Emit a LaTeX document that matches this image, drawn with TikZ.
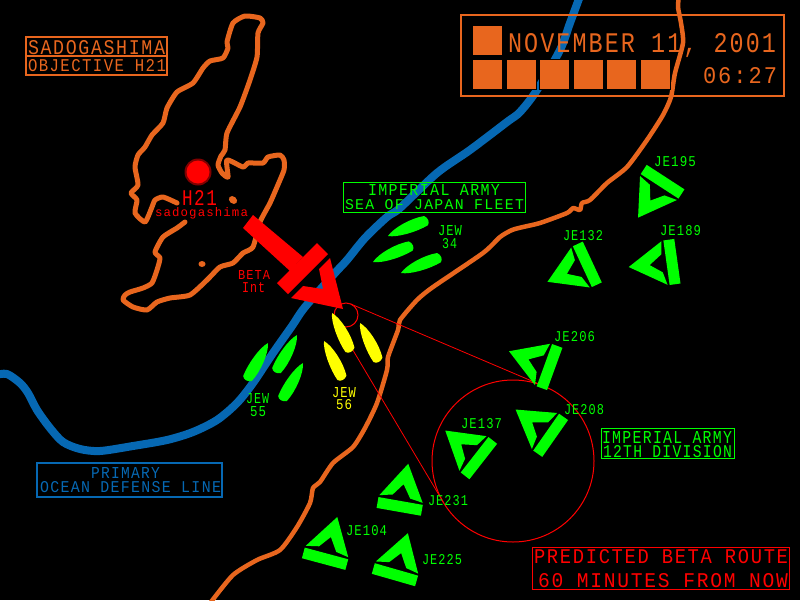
\documentclass[tikz,border=0pt]{standalone}
\usepackage{fontspec}
\setmonofont[LetterSpace=9]{Liberation Mono}
\definecolor{hudorange}{HTML}{E8661E}
\definecolor{hudblue}{HTML}{0668B3}
\definecolor{hudgreen}{HTML}{00FF00}
\definecolor{hudred}{HTML}{FF0000}
\definecolor{hudyellow}{HTML}{FFFF00}
\newcommand{\hud}[3]{\resizebox{#1pt}{#2pt}{\ttfamily #3}}
\tikzset{
  hudlabel/.style={inner sep=0pt,outer sep=0pt,anchor=base west},
  hudframe/.style={draw,line width=1.4pt,inner sep=0pt,outer sep=0pt,anchor=north west},
  hudsquare/.style={fill=hudorange,draw=black,line width=1pt,minimum size=30pt,inner sep=0pt,anchor=north west},
  ring/.style={circle,draw=hudred,line width=1pt,inner sep=0pt,outer sep=0pt},
  coastline/.style={hudorange,line width=4.5pt,line cap=round,line join=round},
  jeunit/.pic={
    \fill[hudgreen] (-22,0) -- (1,-36) -- (22,0) -- (9,-2) -- (0,-15) -- (-9,-3) -- cycle;
    \fill[hudgreen] (-22.5,2) -- (22.5,2) -- (22.5,13) -- (-22.5,13) -- cycle;
  },
  jewship/.pic={
    \path[pic actions] (0,0) .. controls (8,-5.5) and (28,-8) .. (41,-5) .. controls (44,-2) and (44,3) .. (41,5) .. controls (28,7) and (8,5) .. (0,0) -- cycle;
  }
}
\begin{document}
\begin{tikzpicture}[x=1pt,y=-1pt]
\useasboundingbox (0,0) rectangle (800,600);
\fill[black] (0,0) rectangle (800,600);

\draw[hudblue,line width=8pt,line cap=round,line join=round] plot[smooth,tension=.5] coordinates {(-4,375) (7,374) (20,383) (28,393) (37,410) (50,428) (63,442) (80,449) (100,451) (133,446) (167,440) (193,432) (217,420) (237,403) (253,383) (273,353) (292,326) (305,307) (335,273) (347,260) (365,238) (387,217) (400,208) (437,173) (470,150) (507,122) (520,112) (537,90) (560,50) (570,23) (580,-4)};

\draw[coastline] plot[smooth,tension=.4] coordinates {(679,-4) (678,7) (681,23) (683,43) (675,73) (671,97) (663,115) (647,140) (627,167) (607,183) (590,200) (582,203) (580,210) (573,208) (567,213) (540,223) (523,227) (512,230) (500,237) (483,253) (433,287) (417,300) (400,320) (398,330) (388,357) (387,370) (377,403) (365,428) (353,447) (333,463) (320,482) (313,488) (310,503) (297,527) (280,550) (257,560) (233,575) (211,602)};

\draw[coastline,line width=5pt] plot[smooth,tension=.35] coordinates {(185,222) (177,228) (163,237) (155,252) (160,258) (157,270) (152,283) (143,288) (130,292) (125,295) (123,300) (133,307) (147,310) (157,302) (170,298) (190,295) (207,280) (220,267) (233,263) (243,253) (253,247) (260,222) (270,203) (277,187) (284,170) (284,160) (280,155) (268,157) (263,163) (248,163) (243,167) (227,160) (228,177) (222,173) (218,165) (221,156) (225,150) (227,133) (240,107) (250,80) (257,57) (258,33) (263,23) (260,18) (245,16) (233,23) (227,42) (228,48) (223,58) (210,61) (203,68) (193,83) (177,92) (167,108) (163,123) (152,135) (145,147) (138,155) (135,167) (138,185) (131,193) (137,200) (135,213) (145,222) (152,207) (155,200) (163,197) (177,203)};
\fill[hudorange,rotate around={-40:(233,200)}] (233,200) ellipse (4.5 and 3.5);
\fill[hudorange] (202,264) ellipse (3.5 and 3);

\node[ring,minimum size=162pt] (bigring) at (513,461) {};
\node[ring,minimum size=24pt] (smallring) at (346,315) {};
\draw[hudred,line width=.8pt] (smallring.67) -- (bigring.67);
\draw[hudred,line width=.8pt] (smallring.211) -- (bigring.211);

\pic (je195) [rotate=147] at (658.5,188) {jeunit};
\pic (je132) [rotate=115] at (580.5,267.5) {jeunit};
\pic (je189) [rotate=98] at (664.5,263) {jeunit};
\pic (je206) [rotate=70] at (542.5,364.5) {jeunit};
\pic (je208) [rotate=55] at (544.5,431) {jeunit};
\pic (je137) [rotate=52] at (473,453.5) {jeunit};
\pic (je231) [rotate=-10] at (401,499) {jeunit};
\pic (je104) [rotate=-15] at (327,551.5) {jeunit};
\pic (je225) [rotate=-16] at (397,567.5) {jeunit};

\pic (jew34a) [rotate=22,fill=hudgreen] at (388,236) {jewship};
\pic (jew34b) [rotate=23,fill=hudgreen] at (373,262) {jewship};
\pic (jew34c) [rotate=22,fill=hudgreen] at (401,273) {jewship};
\pic (jew55a) [rotate=-120,fill=hudgreen] at (268,343) {jewship};
\pic (jew55b) [rotate=-120,fill=hudgreen] at (297,335) {jewship};
\pic (jew55c) [rotate=-120,fill=hudgreen] at (303,363) {jewship};
\pic (jew56a) [rotate=-64,fill=hudyellow] at (332,313) {jewship};
\pic (jew56b) [rotate=-64,fill=hudyellow] at (360,323) {jewship};
\pic (jew56c) [rotate=-64,fill=hudyellow] at (324,341) {jewship};

\fill[hudred] (253,215) -- (243,228) -- (290,271) -- (303,257) -- cycle;
\fill[hudred] (317,243) -- (328,254) -- (288,294) -- (277,283) -- cycle;
\fill[hudred] (330,258) -- (343,309) -- (291,298) -- (303,286) -- (323,289) -- (319,269) -- cycle;
\fill[hudred!50!black] (198,172) circle (13.5);
\fill[hudred] (198,172) circle (11.5);

\node[hudframe,draw=hudorange,minimum width=141pt,minimum height=38pt] (sadoframe) at (26,37) {};
\draw[hudorange,line width=1.4pt] (sadoframe.west |- 0,56) -- (sadoframe.east |- 0,56);
\node[hudframe,draw=hudorange,minimum width=323pt,minimum height=81pt] (dateframe) at (461,15) {};
\node[hudframe,draw=hudgreen,line width=1pt,minimum width=182pt,minimum height=30pt] (fleetframe) at (343.5,182) {};
\node[hudframe,draw=hudblue,minimum width=185pt,minimum height=34pt] (oceanframe) at (37,463) {};
\node[hudframe,draw=hudgreen,line width=1pt,minimum width=133pt,minimum height=30pt] (divframe) at (601,428) {};
\node[hudframe,draw=hudred,line width=1pt,minimum width=257pt,minimum height=42pt] (routeframe) at (532,547) {};

\node[hudsquare] (sqa) at (471.5,24.5) {};
\node[hudsquare] (sqb) at (471.5,59) {};
\node[hudsquare] (sqc) at (505.5,59) {};
\node[hudsquare] (sqd) at (539,59) {};
\node[hudsquare] (sqe) at (572.5,59) {};
\node[hudsquare] (sqf) at (606,59) {};
\node[hudsquare] (sqg) at (640,59) {};

\node[hudlabel,text=hudorange] (sadolab) at (28,54) {\hud{137}{14}{SADOGASHIMA}};
\node[hudlabel,text=hudorange] (objlab) at (28,71) {\hud{138}{12}{OBJECTIVE H21}};
\node[hudlabel,text=hudorange] (datelab) at (508,52) {\hud{268}{19}{NOVEMBER 11, 2001}};
\node[hudlabel,text=hudorange] (timelab) at (703,83) {\hud{74}{16}{06:27}};

\node[hudlabel,text=hudred] (h21lab) at (182,205) {\hud{35}{15}{H21}};
\node[hudlabel,text=hudred] (islandlab) at (155,216) {\hud{93}{9}{sadogashima}};
\node[hudlabel,text=hudred] (betalab) at (238,279) {\hud{32}{9}{BETA}};
\node[hudlabel,text=hudred] (intlab) at (242,292) {\hud{23}{10}{Int}};

\node[hudlabel,text=hudgreen] (fleetlaba) at (368,195) {\hud{132}{11}{IMPERIAL ARMY}};
\node[hudlabel,text=hudgreen] (fleetlabb) at (345,209) {\hud{179}{10}{SEA OF JAPAN FLEET}};
\node[hudlabel,text=hudgreen] (divlaba) at (602,443) {\hud{130}{12}{IMPERIAL ARMY}};
\node[hudlabel,text=hudgreen] (divlabb) at (603,457) {\hud{129}{12}{12TH DIVISION}};

\node[hudlabel,text=hudblue] (oceanlaba) at (91,478) {\hud{69}{11}{PRIMARY}};
\node[hudlabel,text=hudblue] (oceanlabb) at (40,492) {\hud{181}{11}{OCEAN DEFENSE LINE}};

\node[hudlabel,text=hudred] (routelaba) at (534,563) {\hud{254}{14}{PREDICTED BETA ROUTE}};
\node[hudlabel,text=hudred] (routelabb) at (538,587) {\hud{250}{14}{60 MINUTES FROM NOW}};

\node[hudlabel,text=hudgreen] (jew34laba) at (438,235) {\hud{24}{10}{JEW}};
\node[hudlabel,text=hudgreen] (jew34labb) at (442,248) {\hud{15}{10}{34}};
\node[hudlabel,text=hudgreen] (jew55laba) at (246,403) {\hud{23}{10}{JEW}};
\node[hudlabel,text=hudgreen] (jew55labb) at (250,416) {\hud{16}{10}{55}};
\node[hudlabel,text=hudyellow] (jew56laba) at (332,397) {\hud{24}{10}{JEW}};
\node[hudlabel,text=hudyellow] (jew56labb) at (336,409) {\hud{16}{10}{56}};

\node[hudlabel,text=hudgreen] (je195lab) at (654,166) {\hud{42}{10}{JE195}};
\node[hudlabel,text=hudgreen] (je132lab) at (563,240) {\hud{40}{10}{JE132}};
\node[hudlabel,text=hudgreen] (je189lab) at (660,235) {\hud{41}{10}{JE189}};
\node[hudlabel,text=hudgreen] (je206lab) at (554,341) {\hud{41}{10}{JE206}};
\node[hudlabel,text=hudgreen] (je208lab) at (564,414) {\hud{40}{10}{JE208}};
\node[hudlabel,text=hudgreen] (je137lab) at (461,428) {\hud{41}{10}{JE137}};
\node[hudlabel,text=hudgreen] (je231lab) at (428,505) {\hud{40}{10}{JE231}};
\node[hudlabel,text=hudgreen] (je104lab) at (346,535) {\hud{41}{10}{JE104}};
\node[hudlabel,text=hudgreen] (je225lab) at (422,564) {\hud{40}{10}{JE225}};
\end{tikzpicture}
\end{document}
